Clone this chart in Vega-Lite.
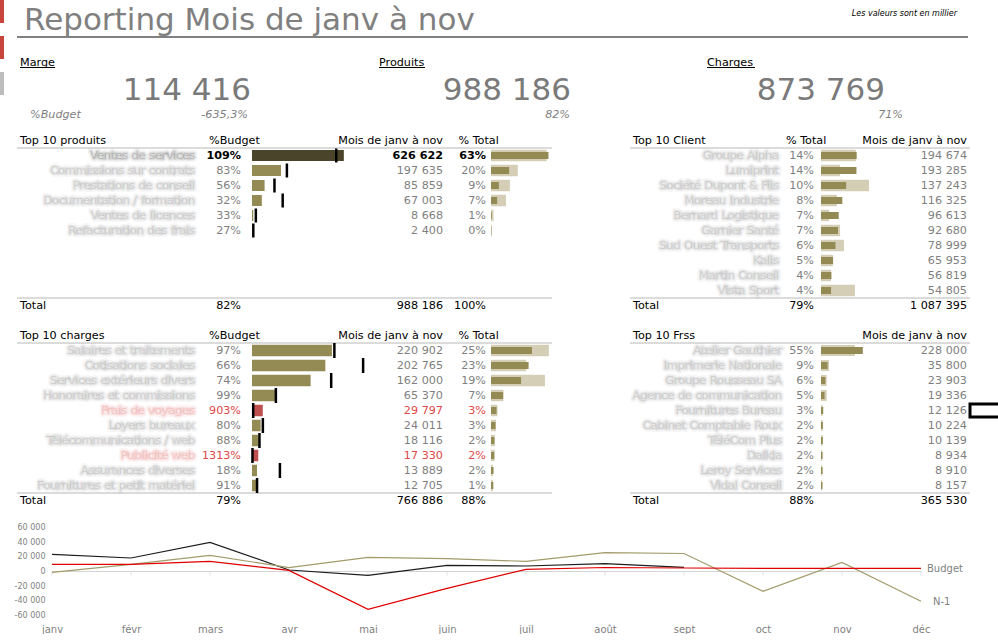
{
"$schema": "https://vega.github.io/schema/vega-lite/v6.json",
"padding": 0,
"background": "#ffffff",
"bounds": "flush",
"spacing": 13,
"config": {
  "font": "DejaVu Sans",
  "view": {"stroke": null},
  "concat": {"spacing": 0},
  "locale": {"number": {"decimal": ",", "thousands": "\u00a0", "grouping": [3], "currency": ["", "\u00a0€"], "percent": "%", "minus": "-"}},
  "text": {"font": "DejaVu Sans", "fontSize": 11.2, "color": "#7f7f7f", "baseline": "middle"}
},
"datasets": {
  "rapport": [{"titre": "Reporting Mois de janv à nov", "note": "Les valeurs sont en millier"}],
  "navigation": [{"onglet": "Tableau de bord", "actif": true}, {"onglet": "Saisie", "actif": true}, {"onglet": "Paramètres", "actif": false}],
  "indicateurs": [
    {"indicateur": "Marge", "montant": 114416, "ratio": -6.353, "libelleRatio": "%Budget"},
    {"indicateur": "Produits", "montant": 988186, "ratio": 0.82},
    {"indicateur": "Charges", "montant": 873769, "ratio": 0.71}
  ],
  "entetes": [
    {"bloc": "produits", "ligne": "entête", "titre": "Top 10 produits", "colBudget": "%Budget", "colMontant": "Mois de janv à nov", "colTotal": "% Total"},
    {"bloc": "charges", "ligne": "entête", "titre": "Top 10 charges", "colBudget": "%Budget", "colMontant": "Mois de janv à nov", "colTotal": "% Total"},
    {"bloc": "clients", "ligne": "entête", "titre": "Top 10 Client", "colMontant": "Mois de janv à nov", "colTotal": "% Total"},
    {"bloc": "frss", "ligne": "entête", "titre": "Top 10 Frss", "colMontant": "Mois de janv à nov"}
  ],
  "totaux": [
    {"bloc": "produits", "ligne": "total", "pctBudget": 0.82, "montant": 988186, "pctTotal": 1.0},
    {"bloc": "charges", "ligne": "total", "pctBudget": 0.79, "montant": 766886, "pctTotal": 0.88},
    {"bloc": "clients", "ligne": "total", "pctTotal": 0.79, "montant": 1087395},
    {"bloc": "frss", "ligne": "total", "pctTotal": 0.88, "montant": 365530}
  ],
  "lignes": [
    {"bloc": "produits", "ligne": "1", "libelle": "Ventes de services", "pctBudget": 1.09, "montant": 626622, "budget": 574883, "pctTotal": 0.63, "n1": 607000, "vedette": true},
    {"bloc": "produits", "ligne": "2", "libelle": "Commissions sur contrats", "pctBudget": 0.83, "montant": 197635, "budget": 238114, "pctTotal": 0.20, "n1": 292000},
    {"bloc": "produits", "ligne": "3", "libelle": "Prestations de conseil", "pctBudget": 0.56, "montant": 85859, "budget": 153320, "pctTotal": 0.09, "n1": 206000},
    {"bloc": "produits", "ligne": "4", "libelle": "Documentation / formation", "pctBudget": 0.32, "montant": 67003, "budget": 209384, "pctTotal": 0.07, "n1": 163000},
    {"bloc": "produits", "ligne": "5", "libelle": "Ventes de licences", "pctBudget": 0.33, "montant": 8668, "budget": 26267, "pctTotal": 0.01, "n1": 27000},
    {"bloc": "produits", "ligne": "6", "libelle": "Refacturation des frais", "pctBudget": 0.27, "montant": 2400, "budget": 8889, "pctTotal": 0.0, "n1": 11000},
    {"bloc": "charges", "ligne": "1", "libelle": "Salaires et traitements", "pctBudget": 0.97, "montant": 220902, "budget": 227734, "pctTotal": 0.25, "n1": 312000},
    {"bloc": "charges", "ligne": "2", "libelle": "Cotisations sociales", "pctBudget": 0.66, "montant": 202765, "budget": 307220, "pctTotal": 0.23, "n1": 189000},
    {"bloc": "charges", "ligne": "3", "libelle": "Services extérieurs divers", "pctBudget": 0.74, "montant": 162000, "budget": 218919, "pctTotal": 0.19, "n1": 291000},
    {"bloc": "charges", "ligne": "4", "libelle": "Honoraires et commissions", "pctBudget": 0.99, "montant": 65370, "budget": 66030, "pctTotal": 0.07, "n1": 67000},
    {"bloc": "charges", "ligne": "5", "libelle": "Frais de voyages", "pctBudget": 9.03, "montant": 29797, "budget": 3300, "pctTotal": 0.03, "n1": 35000, "alerte": true},
    {"bloc": "charges", "ligne": "6", "libelle": "Loyers bureaux", "pctBudget": 0.80, "montant": 24011, "budget": 30014, "pctTotal": 0.03, "n1": 27000},
    {"bloc": "charges", "ligne": "7", "libelle": "Télécommunications / web", "pctBudget": 0.88, "montant": 18116, "budget": 20586, "pctTotal": 0.02, "n1": 21000},
    {"bloc": "charges", "ligne": "8", "libelle": "Publicité web", "pctBudget": 13.13, "montant": 17330, "budget": 1320, "pctTotal": 0.02, "n1": 20000, "alerte": true},
    {"bloc": "charges", "ligne": "9", "libelle": "Assurances diverses", "pctBudget": 0.18, "montant": 13889, "budget": 77161, "pctTotal": 0.02, "n1": 10000},
    {"bloc": "charges", "ligne": "10", "libelle": "Fournitures et petit matériel", "pctBudget": 0.91, "montant": 12705, "budget": 13962, "pctTotal": 0.01, "n1": 10000},
    {"bloc": "clients", "ligne": "1", "libelle": "Groupe Alpha", "pctTotal": 0.14, "montant": 194674, "n1": 190000},
    {"bloc": "clients", "ligne": "2", "libelle": "Lumiprint", "pctTotal": 0.14, "montant": 193285, "n1": 104000},
    {"bloc": "clients", "ligne": "3", "libelle": "Société Dupont & Fils", "pctTotal": 0.10, "montant": 137243, "n1": 262000},
    {"bloc": "clients", "ligne": "4", "libelle": "Moreau Industrie", "pctTotal": 0.08, "montant": 116325, "n1": 87000},
    {"bloc": "clients", "ligne": "5", "libelle": "Bernard Logistique", "pctTotal": 0.07, "montant": 96613, "n1": 44000},
    {"bloc": "clients", "ligne": "6", "libelle": "Garnier Santé", "pctTotal": 0.07, "montant": 92680, "n1": 104000},
    {"bloc": "clients", "ligne": "7", "libelle": "Sud Ouest Transports", "pctTotal": 0.06, "montant": 78999, "n1": 125000},
    {"bloc": "clients", "ligne": "8", "libelle": "Kalis", "pctTotal": 0.05, "montant": 65953, "n1": 65000},
    {"bloc": "clients", "ligne": "9", "libelle": "Martin Conseil", "pctTotal": 0.04, "montant": 56819, "n1": 55000},
    {"bloc": "clients", "ligne": "10", "libelle": "Vista Sport", "pctTotal": 0.04, "montant": 54805, "n1": 185000},
    {"bloc": "frss", "ligne": "1", "libelle": "Atelier Gauthier", "pctTotal": 0.55, "montant": 228000, "n1": 185000},
    {"bloc": "frss", "ligne": "2", "libelle": "Imprimerie Nationale", "pctTotal": 0.09, "montant": 35800, "n1": 43600},
    {"bloc": "frss", "ligne": "3", "libelle": "Groupe Rousseau SA", "pctTotal": 0.06, "montant": 23903, "n1": 31000},
    {"bloc": "frss", "ligne": "4", "libelle": "Agence de communication", "pctTotal": 0.05, "montant": 19336, "n1": 31000},
    {"bloc": "frss", "ligne": "5", "libelle": "Fournitures Bureau", "pctTotal": 0.03, "montant": 12126, "n1": 9000, "selectionne": true},
    {"bloc": "frss", "ligne": "6", "libelle": "Cabinet Comptable Roux", "pctTotal": 0.02, "montant": 10224, "n1": 8000},
    {"bloc": "frss", "ligne": "7", "libelle": "TéléCom Plus", "pctTotal": 0.02, "montant": 10139, "n1": 8000},
    {"bloc": "frss", "ligne": "8", "libelle": "Dalkia", "pctTotal": 0.02, "montant": 8934, "n1": 6000},
    {"bloc": "frss", "ligne": "9", "libelle": "Leroy Services", "pctTotal": 0.02, "montant": 8910, "n1": 5000},
    {"bloc": "frss", "ligne": "10", "libelle": "Vidal Conseil", "pctTotal": 0.02, "montant": 8157, "n1": 5000}
  ],
  "mensuel": [
    {"serie": "Réalisé", "mois": "janv", "valeur": 23700},
    {"serie": "Réalisé", "mois": "févr", "valeur": 18600},
    {"serie": "Réalisé", "mois": "mars", "valeur": 40200},
    {"serie": "Réalisé", "mois": "avr", "valeur": 2100},
    {"serie": "Réalisé", "mois": "mai", "valeur": -5300},
    {"serie": "Réalisé", "mois": "juin", "valeur": 8500},
    {"serie": "Réalisé", "mois": "juil", "valeur": 7600},
    {"serie": "Réalisé", "mois": "août", "valeur": 10800},
    {"serie": "Réalisé", "mois": "sept", "valeur": 5700},
    {"serie": "N-1", "mois": "janv", "valeur": -1100},
    {"serie": "N-1", "mois": "févr", "valeur": 9900},
    {"serie": "N-1", "mois": "mars", "valeur": 22300},
    {"serie": "N-1", "mois": "avr", "valeur": 5300},
    {"serie": "N-1", "mois": "mai", "valeur": 19500},
    {"serie": "N-1", "mois": "juin", "valeur": 17700},
    {"serie": "N-1", "mois": "juil", "valeur": 14000},
    {"serie": "N-1", "mois": "août", "valeur": 26000},
    {"serie": "N-1", "mois": "sept", "valeur": 24800},
    {"serie": "N-1", "mois": "oct", "valeur": -27400},
    {"serie": "N-1", "mois": "nov", "valeur": 12600},
    {"serie": "N-1", "mois": "déc", "valeur": -41100},
    {"serie": "Budget", "mois": "janv", "valeur": 9900},
    {"serie": "Budget", "mois": "févr", "valeur": 9900},
    {"serie": "Budget", "mois": "mars", "valeur": 14000},
    {"serie": "Budget", "mois": "avr", "valeur": 1600},
    {"serie": "Budget", "mois": "mai", "valeur": -52200},
    {"serie": "Budget", "mois": "juin", "valeur": -23200},
    {"serie": "Budget", "mois": "juil", "valeur": 3000},
    {"serie": "Budget", "mois": "août", "valeur": 5500},
    {"serie": "Budget", "mois": "sept", "valeur": 4800},
    {"serie": "Budget", "mois": "oct", "valeur": 4400},
    {"serie": "Budget", "mois": "nov", "valeur": 4400},
    {"serie": "Budget", "mois": "déc", "valeur": 4400}
  ]
},
"hconcat": [
  {
    "width": 4, "height": 95,
    "data": {"name": "navigation"},
    "mark": {"type": "bar"},
    "encoding": {
      "y": {"field": "onglet", "type": "nominal", "sort": null, "axis": null, "scale": {"paddingInner": 0.36, "paddingOuter": 0}},
      "color": {"condition": {"test": "datum.actif", "value": "#C9453B"}, "value": "#BDBDBD"}
    }
  },
  {
    "bounds": "full", "spacing": 0,
    "vconcat": [
      {
        "width": 951, "height": 37,
        "data": {"name": "rapport"},
        "encoding": {"y": {"datum": 0, "type": "quantitative", "scale": {"domain": [0, 1]}, "axis": null}},
        "layer": [
          {"mark": {"type": "rule", "color": "#000000", "strokeWidth": 1}, "encoding": {}},
          {"mark": {"type": "text", "align": "left", "baseline": "alphabetic", "fontSize": 31, "color": "#808080", "dx": 7, "dy": -7},
           "encoding": {"x": {"datum": 0, "type": "quantitative", "scale": {"domain": [0, 1]}, "axis": null}, "text": {"field": "titre"}}},
          {"mark": {"type": "text", "align": "right", "fontStyle": "italic", "fontSize": 8, "color": "#000000", "dx": -11, "dy": -23},
           "encoding": {"x": {"datum": 1, "type": "quantitative", "scale": {"domain": [0, 1]}, "axis": null}, "text": {"field": "note"}}}
        ]
      },
      {
        "bounds": "flush", "spacing": 132,
        "hconcat": [
          {
            "width": 234, "height": 95,
            "data": {"name": "indicateurs"},
            "transform": [{"filter": "datum.indicateur === 'Marge'"}],
            "layer": [
              {"mark": {"type": "text", "align": "left", "color": "#000000", "dx": 3, "dy": -23},
               "encoding": {"x": {"datum": 0, "type": "quantitative", "scale": {"domain": [0, 1]}, "axis": null}, "text": {"field": "indicateur"}}},
              {"mark": {"type": "rule", "color": "#000000", "xOffset": 3, "x2Offset": 38, "yOffset": -18},
               "encoding": {"x": {"datum": 0, "type": "quantitative", "scale": {"domain": [0, 1]}, "axis": null}, "x2": {"datum": 0}}},
              {"mark": {"type": "text", "align": "right", "baseline": "alphabetic", "fontSize": 31, "color": "#7a7a7a", "dy": 14},
               "encoding": {"x": {"datum": 1, "type": "quantitative", "scale": {"domain": [0, 1]}, "axis": null}, "text": {"field": "montant", "type": "quantitative", "format": ",.0f"}}},
              {"mark": {"type": "text", "align": "right", "fontStyle": "italic", "dx": -3, "dy": 29},
               "encoding": {"x": {"datum": 1, "type": "quantitative", "scale": {"domain": [0, 1]}, "axis": null}, "text": {"field": "ratio", "type": "quantitative", "format": ".1%"}}},
              {"mark": {"type": "text", "align": "left", "fontStyle": "italic", "dx": 13, "dy": 29},
               "encoding": {"x": {"datum": 0, "type": "quantitative", "scale": {"domain": [0, 1]}, "axis": null}, "text": {"field": "libelleRatio"}}}
            ]
          },
          {
            "width": 188, "height": 95,
            "data": {"name": "indicateurs"},
            "transform": [{"filter": "datum.indicateur === 'Produits'"}],
            "layer": [
              {"mark": {"type": "text", "align": "left", "color": "#000000", "dx": -4, "dy": -23},
               "encoding": {"x": {"datum": 0, "type": "quantitative", "scale": {"domain": [0, 1]}, "axis": null}, "text": {"field": "indicateur"}}},
              {"mark": {"type": "rule", "color": "#000000", "xOffset": -4, "x2Offset": 42, "yOffset": -18},
               "encoding": {"x": {"datum": 0, "type": "quantitative", "scale": {"domain": [0, 1]}, "axis": null}, "x2": {"datum": 0}}},
              {"mark": {"type": "text", "align": "right", "baseline": "alphabetic", "fontSize": 31, "color": "#7a7a7a", "dy": 14},
               "encoding": {"x": {"datum": 1, "type": "quantitative", "scale": {"domain": [0, 1]}, "axis": null}, "text": {"field": "montant", "type": "quantitative", "format": ",.0f"}}},
              {"mark": {"type": "text", "align": "right", "fontStyle": "italic", "dx": -1, "dy": 29},
               "encoding": {"x": {"datum": 1, "type": "quantitative", "scale": {"domain": [0, 1]}, "axis": null}, "text": {"field": "ratio", "type": "quantitative", "format": ".0%"}}}
            ]
          },
          {
            "width": 182, "height": 95,
            "data": {"name": "indicateurs"},
            "transform": [{"filter": "datum.indicateur === 'Charges'"}],
            "layer": [
              {"mark": {"type": "text", "align": "left", "color": "#000000", "dx": 4, "dy": -23},
               "encoding": {"x": {"datum": 0, "type": "quantitative", "scale": {"domain": [0, 1]}, "axis": null}, "text": {"field": "indicateur"}}},
              {"mark": {"type": "rule", "color": "#000000", "xOffset": 4, "x2Offset": 52, "yOffset": -18},
               "encoding": {"x": {"datum": 0, "type": "quantitative", "scale": {"domain": [0, 1]}, "axis": null}, "x2": {"datum": 0}}},
              {"mark": {"type": "text", "align": "right", "baseline": "alphabetic", "fontSize": 31, "color": "#7a7a7a", "dy": 14},
               "encoding": {"x": {"datum": 1, "type": "quantitative", "scale": {"domain": [0, 1]}, "axis": null}, "text": {"field": "montant", "type": "quantitative", "format": ",.0f"}}},
              {"mark": {"type": "text", "align": "right", "fontStyle": "italic", "dx": 18, "dy": 29},
               "encoding": {"x": {"datum": 1, "type": "quantitative", "scale": {"domain": [0, 1]}, "axis": null}, "text": {"field": "ratio", "type": "quantitative", "format": ".0%"}}}
            ]
          }
        ]
      },
      {
        "bounds": "full", "spacing": 76,
        "hconcat": [
          {
            "bounds": "flush", "spacing": 0,
            "hconcat": [
              {
                "width": 192, "height": 195,
                "encoding": {"y": {"field": "ligne", "type": "ordinal", "axis": null, "scale": {"type": "band", "domain": ["entête", "1", "2", "3", "4", "5", "6", "7", "8", "9", "10", "total"], "paddingInner": 0, "paddingOuter": 0.5, "align": 0}}},
                "layer": [
                  {"data": {"name": "entetes"}, "transform": [{"filter": "datum.bloc === 'produits'"}], "mark": {"type": "rule", "color": "#b8b8b8", "yOffset": 7.5}, "encoding": {}},
                  {"data": {"name": "totaux"}, "transform": [{"filter": "datum.bloc === 'produits'"}], "mark": {"type": "rule", "color": "#b8b8b8", "yOffset": -7.5}, "encoding": {}},
                  {"data": {"name": "entetes"}, "transform": [{"filter": "datum.bloc === 'produits'"}], "mark": {"type": "text", "align": "left", "dx": 3, "color": "#000000"},
                   "encoding": {"x": {"datum": 0, "type": "quantitative", "scale": {"domain": [0, 1]}, "axis": null}, "text": {"field": "titre"}}},
                  {"data": {"name": "totaux"}, "transform": [{"filter": "datum.bloc === 'produits'"}], "mark": {"type": "text", "align": "left", "dx": 3, "color": "#000000"},
                   "encoding": {"x": {"datum": 0, "type": "quantitative", "scale": {"domain": [0, 1]}, "axis": null}, "text": {"value": "Total"}}},
                  {"data": {"name": "lignes"}, "transform": [{"filter": "datum.bloc === 'produits'"}], "mark": {"type": "text", "align": "right", "dx": -14, "strokeWidth": 6, "strokeOpacity": 0.07, "fillOpacity": 0.1, "strokeJoin": "round"},
                   "encoding": {"x": {"datum": 1, "type": "quantitative", "scale": {"domain": [0, 1]}, "axis": null}, "text": {"field": "libelle"},
                     "color": {"condition": [{"test": "datum.alerte", "value": "#E06A6A"}, {"test": "datum.vedette", "value": "#4a4a4a"}], "value": "#858585"},
                     "stroke": {"condition": [{"test": "datum.alerte", "value": "#E06A6A"}, {"test": "datum.vedette", "value": "#4a4a4a"}], "value": "#858585"}}},
                  {"data": {"name": "lignes"}, "transform": [{"filter": "datum.bloc === 'produits'"}], "mark": {"type": "text", "align": "right", "dx": -14, "strokeWidth": 2.6, "strokeOpacity": 0.14, "fillOpacity": 0.18, "strokeJoin": "round"},
                   "encoding": {"x": {"datum": 1, "type": "quantitative", "scale": {"domain": [0, 1]}, "axis": null}, "text": {"field": "libelle"},
                     "color": {"condition": [{"test": "datum.alerte", "value": "#E06A6A"}, {"test": "datum.vedette", "value": "#4a4a4a"}], "value": "#858585"},
                     "stroke": {"condition": [{"test": "datum.alerte", "value": "#E06A6A"}, {"test": "datum.vedette", "value": "#4a4a4a"}], "value": "#858585"}}}
                ]
              },
              {
                "width": 43, "height": 195,
                "encoding": {"y": {"field": "ligne", "type": "ordinal", "axis": null, "scale": {"type": "band", "domain": ["entête", "1", "2", "3", "4", "5", "6", "7", "8", "9", "10", "total"], "paddingInner": 0, "paddingOuter": 0.5, "align": 0}}},
                "layer": [
                  {"data": {"name": "entetes"}, "transform": [{"filter": "datum.bloc === 'produits'"}], "mark": {"type": "rule", "color": "#b8b8b8", "yOffset": 7.5}, "encoding": {}},
                  {"data": {"name": "totaux"}, "transform": [{"filter": "datum.bloc === 'produits'"}], "mark": {"type": "rule", "color": "#b8b8b8", "yOffset": -7.5}, "encoding": {}},
                  {"data": {"name": "entetes"}, "transform": [{"filter": "datum.bloc === 'produits'"}], "mark": {"type": "text", "align": "left", "color": "#000000"},
                   "encoding": {"x": {"datum": 0, "type": "quantitative", "scale": {"domain": [0, 1]}, "axis": null}, "text": {"field": "colBudget"}}},
                  {"data": {"name": "lignes"}, "transform": [{"filter": "datum.bloc === 'produits' && !datum.vedette"}], "mark": {"type": "text", "align": "right", "dx": -11},
                   "encoding": {"x": {"datum": 1, "type": "quantitative", "scale": {"domain": [0, 1]}, "axis": null}, "text": {"field": "pctBudget", "type": "quantitative", "format": ".0%"},
                     "color": {"condition": {"test": "datum.alerte", "value": "#E04848"}, "value": "#7f7f7f"}}},
                  {"data": {"name": "lignes"}, "transform": [{"filter": "datum.bloc === 'produits' && datum.vedette"}], "mark": {"type": "text", "align": "right", "dx": -11, "fontWeight": "bold", "color": "#000000"},
                   "encoding": {"x": {"datum": 1, "type": "quantitative", "scale": {"domain": [0, 1]}, "axis": null}, "text": {"field": "pctBudget", "type": "quantitative", "format": ".0%"}}},
                  {"data": {"name": "totaux"}, "transform": [{"filter": "datum.bloc === 'produits'"}], "mark": {"type": "text", "align": "right", "dx": -11, "color": "#000000"},
                   "encoding": {"x": {"datum": 1, "type": "quantitative", "scale": {"domain": [0, 1]}, "axis": null}, "text": {"field": "pctBudget", "type": "quantitative", "format": ".0%"}}}
                ]
              },
              {
                "width": 85, "height": 195,
                "encoding": {"y": {"field": "ligne", "type": "ordinal", "axis": null, "scale": {"type": "band", "domain": ["entête", "1", "2", "3", "4", "5", "6", "7", "8", "9", "10", "total"], "paddingInner": 0, "paddingOuter": 0.5, "align": 0}}},
                "layer": [
                  {"data": {"name": "entetes"}, "transform": [{"filter": "datum.bloc === 'produits'"}], "mark": {"type": "rule", "color": "#b8b8b8", "yOffset": 7.5}, "encoding": {}},
                  {"data": {"name": "totaux"}, "transform": [{"filter": "datum.bloc === 'produits'"}], "mark": {"type": "rule", "color": "#b8b8b8", "yOffset": -7.5}, "encoding": {}},
                  {"data": {"name": "lignes"}, "transform": [{"filter": "datum.bloc === 'produits'"}], "mark": {"type": "bar", "height": 11},
                   "encoding": {"x": {"field": "montant", "type": "quantitative", "scale": {"domain": [0, 580000], "nice": false}, "axis": null},
                     "color": {"condition": [{"test": "datum.alerte", "value": "#C0504D"}, {"test": "datum.vedette", "value": "#4A452A"}], "value": "#948A54"}}},
                  {"data": {"name": "lignes"}, "transform": [{"filter": "datum.bloc === 'produits'"}], "mark": {"type": "tick", "color": "#000000", "thickness": 2.5, "size": 14, "orient": "vertical", "opacity": 1},
                   "encoding": {"x": {"field": "budget", "type": "quantitative", "scale": {"domain": [0, 580000], "nice": false}, "axis": null}}}
                ]
              },
              {
                "width": 121, "height": 195,
                "encoding": {"y": {"field": "ligne", "type": "ordinal", "axis": null, "scale": {"type": "band", "domain": ["entête", "1", "2", "3", "4", "5", "6", "7", "8", "9", "10", "total"], "paddingInner": 0, "paddingOuter": 0.5, "align": 0}}},
                "layer": [
                  {"data": {"name": "entetes"}, "transform": [{"filter": "datum.bloc === 'produits'"}], "mark": {"type": "rule", "color": "#b8b8b8", "yOffset": 7.5}, "encoding": {}},
                  {"data": {"name": "totaux"}, "transform": [{"filter": "datum.bloc === 'produits'"}], "mark": {"type": "rule", "color": "#b8b8b8", "yOffset": -7.5}, "encoding": {}},
                  {"data": {"name": "entetes"}, "transform": [{"filter": "datum.bloc === 'produits'"}], "mark": {"type": "text", "align": "right", "dx": -15, "color": "#000000"},
                   "encoding": {"x": {"datum": 1, "type": "quantitative", "scale": {"domain": [0, 1]}, "axis": null}, "text": {"field": "colMontant"}}},
                  {"data": {"name": "lignes"}, "transform": [{"filter": "datum.bloc === 'produits' && !datum.vedette"}], "mark": {"type": "text", "align": "right", "dx": -15},
                   "encoding": {"x": {"datum": 1, "type": "quantitative", "scale": {"domain": [0, 1]}, "axis": null}, "text": {"field": "montant", "type": "quantitative", "format": ",.0f"},
                     "color": {"condition": {"test": "datum.alerte", "value": "#E04848"}, "value": "#7f7f7f"}}},
                  {"data": {"name": "lignes"}, "transform": [{"filter": "datum.bloc === 'produits' && datum.vedette"}], "mark": {"type": "text", "align": "right", "dx": -15, "fontWeight": "bold", "color": "#000000"},
                   "encoding": {"x": {"datum": 1, "type": "quantitative", "scale": {"domain": [0, 1]}, "axis": null}, "text": {"field": "montant", "type": "quantitative", "format": ",.0f"}}},
                  {"data": {"name": "totaux"}, "transform": [{"filter": "datum.bloc === 'produits'"}], "mark": {"type": "text", "align": "right", "dx": -15, "color": "#000000"},
                   "encoding": {"x": {"datum": 1, "type": "quantitative", "scale": {"domain": [0, 1]}, "axis": null}, "text": {"field": "montant", "type": "quantitative", "format": ",.0f"}}}
                ]
              },
              {
                "width": 33, "height": 195,
                "encoding": {"y": {"field": "ligne", "type": "ordinal", "axis": null, "scale": {"type": "band", "domain": ["entête", "1", "2", "3", "4", "5", "6", "7", "8", "9", "10", "total"], "paddingInner": 0, "paddingOuter": 0.5, "align": 0}}},
                "layer": [
                  {"data": {"name": "entetes"}, "transform": [{"filter": "datum.bloc === 'produits'"}], "mark": {"type": "rule", "color": "#b8b8b8", "yOffset": 7.5}, "encoding": {}},
                  {"data": {"name": "totaux"}, "transform": [{"filter": "datum.bloc === 'produits'"}], "mark": {"type": "rule", "color": "#b8b8b8", "yOffset": -7.5}, "encoding": {}},
                  {"data": {"name": "entetes"}, "transform": [{"filter": "datum.bloc === 'produits'"}], "mark": {"type": "text", "align": "left", "dx": 0.5, "color": "#000000"},
                   "encoding": {"x": {"datum": 0, "type": "quantitative", "scale": {"domain": [0, 1]}, "axis": null}, "text": {"field": "colTotal"}}},
                  {"data": {"name": "lignes"}, "transform": [{"filter": "datum.bloc === 'produits' && !datum.vedette"}], "mark": {"type": "text", "align": "right", "dx": -5},
                   "encoding": {"x": {"datum": 1, "type": "quantitative", "scale": {"domain": [0, 1]}, "axis": null}, "text": {"field": "pctTotal", "type": "quantitative", "format": ".0%"},
                     "color": {"condition": {"test": "datum.alerte", "value": "#E04848"}, "value": "#7f7f7f"}}},
                  {"data": {"name": "lignes"}, "transform": [{"filter": "datum.bloc === 'produits' && datum.vedette"}], "mark": {"type": "text", "align": "right", "dx": -5, "fontWeight": "bold", "color": "#000000"},
                   "encoding": {"x": {"datum": 1, "type": "quantitative", "scale": {"domain": [0, 1]}, "axis": null}, "text": {"field": "pctTotal", "type": "quantitative", "format": ".0%"}}},
                  {"data": {"name": "totaux"}, "transform": [{"filter": "datum.bloc === 'produits'"}], "mark": {"type": "text", "align": "right", "dx": -5, "color": "#000000"},
                   "encoding": {"x": {"datum": 1, "type": "quantitative", "scale": {"domain": [0, 1]}, "axis": null}, "text": {"field": "pctTotal", "type": "quantitative", "format": ".0%"}}}
                ]
              },
              {
                "width": 61, "height": 195,
                "encoding": {"y": {"field": "ligne", "type": "ordinal", "axis": null, "scale": {"type": "band", "domain": ["entête", "1", "2", "3", "4", "5", "6", "7", "8", "9", "10", "total"], "paddingInner": 0, "paddingOuter": 0.5, "align": 0}}},
                "layer": [
                  {"data": {"name": "entetes"}, "transform": [{"filter": "datum.bloc === 'produits'"}], "mark": {"type": "rule", "color": "#b8b8b8", "yOffset": 7.5}, "encoding": {}},
                  {"data": {"name": "totaux"}, "transform": [{"filter": "datum.bloc === 'produits'"}], "mark": {"type": "rule", "color": "#b8b8b8", "yOffset": -7.5}, "encoding": {}},
                  {"data": {"name": "lignes"}, "transform": [{"filter": "datum.bloc === 'produits'"}], "mark": {"type": "bar", "height": 11.5, "color": "#D3CEB5"},
                   "encoding": {"x": {"field": "n1", "type": "quantitative", "scale": {"domain": [0, 665000], "nice": false}, "axis": null}}},
                  {"data": {"name": "lignes"}, "transform": [{"filter": "datum.bloc === 'produits'"}], "mark": {"type": "bar", "height": 7, "color": "#948A54"},
                   "encoding": {"x": {"field": "montant", "type": "quantitative", "scale": {"domain": [0, 665000], "nice": false}, "axis": null}}}
                ]
              }
            ]
          },
          {
            "bounds": "flush", "spacing": 0,
            "hconcat": [
              {
                "width": 156, "height": 195,
                "encoding": {"y": {"field": "ligne", "type": "ordinal", "axis": null, "scale": {"type": "band", "domain": ["entête", "1", "2", "3", "4", "5", "6", "7", "8", "9", "10", "total"], "paddingInner": 0, "paddingOuter": 0.5, "align": 0}}},
                "layer": [
                  {"data": {"name": "entetes"}, "transform": [{"filter": "datum.bloc === 'clients'"}], "mark": {"type": "rule", "color": "#b8b8b8", "yOffset": 7.5}, "encoding": {}},
                  {"data": {"name": "totaux"}, "transform": [{"filter": "datum.bloc === 'clients'"}], "mark": {"type": "rule", "color": "#b8b8b8", "yOffset": -7.5}, "encoding": {}},
                  {"data": {"name": "entetes"}, "transform": [{"filter": "datum.bloc === 'clients'"}], "mark": {"type": "text", "align": "left", "dx": 3, "color": "#000000"},
                   "encoding": {"x": {"datum": 0, "type": "quantitative", "scale": {"domain": [0, 1]}, "axis": null}, "text": {"field": "titre"}}},
                  {"data": {"name": "totaux"}, "transform": [{"filter": "datum.bloc === 'clients'"}], "mark": {"type": "text", "align": "left", "dx": 3, "color": "#000000"},
                   "encoding": {"x": {"datum": 0, "type": "quantitative", "scale": {"domain": [0, 1]}, "axis": null}, "text": {"value": "Total"}}},
                  {"data": {"name": "lignes"}, "transform": [{"filter": "datum.bloc === 'clients'"}], "mark": {"type": "text", "align": "right", "dx": -7, "strokeWidth": 6, "strokeOpacity": 0.07, "fillOpacity": 0.1, "strokeJoin": "round", "color": "#858585", "stroke": "#858585"},
                   "encoding": {"x": {"datum": 1, "type": "quantitative", "scale": {"domain": [0, 1]}, "axis": null}, "text": {"field": "libelle"}}},
                  {"data": {"name": "lignes"}, "transform": [{"filter": "datum.bloc === 'clients'"}], "mark": {"type": "text", "align": "right", "dx": -7, "strokeWidth": 2.6, "strokeOpacity": 0.14, "fillOpacity": 0.18, "strokeJoin": "round", "color": "#858585", "stroke": "#858585"},
                   "encoding": {"x": {"datum": 1, "type": "quantitative", "scale": {"domain": [0, 1]}, "axis": null}, "text": {"field": "libelle"}}}
                ]
              },
              {
                "width": 35, "height": 195,
                "encoding": {"y": {"field": "ligne", "type": "ordinal", "axis": null, "scale": {"type": "band", "domain": ["entête", "1", "2", "3", "4", "5", "6", "7", "8", "9", "10", "total"], "paddingInner": 0, "paddingOuter": 0.5, "align": 0}}},
                "layer": [
                  {"data": {"name": "entetes"}, "transform": [{"filter": "datum.bloc === 'clients'"}], "mark": {"type": "rule", "color": "#b8b8b8", "yOffset": 7.5}, "encoding": {}},
                  {"data": {"name": "totaux"}, "transform": [{"filter": "datum.bloc === 'clients'"}], "mark": {"type": "rule", "color": "#b8b8b8", "yOffset": -7.5}, "encoding": {}},
                  {"data": {"name": "entetes"}, "transform": [{"filter": "datum.bloc === 'clients'"}], "mark": {"type": "text", "align": "left", "color": "#000000"},
                   "encoding": {"x": {"datum": 0, "type": "quantitative", "scale": {"domain": [0, 1]}, "axis": null}, "text": {"field": "colTotal"}}},
                  {"data": {"name": "lignes"}, "transform": [{"filter": "datum.bloc === 'clients'"}], "mark": {"type": "text", "align": "right", "dx": -7},
                   "encoding": {"x": {"datum": 1, "type": "quantitative", "scale": {"domain": [0, 1]}, "axis": null}, "text": {"field": "pctTotal", "type": "quantitative", "format": ".0%"}}},
                  {"data": {"name": "totaux"}, "transform": [{"filter": "datum.bloc === 'clients'"}], "mark": {"type": "text", "align": "right", "dx": -7, "color": "#000000"},
                   "encoding": {"x": {"datum": 1, "type": "quantitative", "scale": {"domain": [0, 1]}, "axis": null}, "text": {"field": "pctTotal", "type": "quantitative", "format": ".0%"}}}
                ]
              },
              {
                "width": 149, "height": 195,
                "resolve": {"scale": {"x": "independent"}},
                "encoding": {"y": {"field": "ligne", "type": "ordinal", "axis": null, "scale": {"type": "band", "domain": ["entête", "1", "2", "3", "4", "5", "6", "7", "8", "9", "10", "total"], "paddingInner": 0, "paddingOuter": 0.5, "align": 0}}},
                "layer": [
                  {"data": {"name": "entetes"}, "transform": [{"filter": "datum.bloc === 'clients'"}], "mark": {"type": "rule", "color": "#b8b8b8", "yOffset": 7.5}, "encoding": {}},
                  {"data": {"name": "totaux"}, "transform": [{"filter": "datum.bloc === 'clients'"}], "mark": {"type": "rule", "color": "#b8b8b8", "yOffset": -7.5}, "encoding": {}},
                  {"data": {"name": "lignes"}, "transform": [{"filter": "datum.bloc === 'clients'"}], "mark": {"type": "bar", "height": 11.5, "color": "#D3CEB5"},
                   "encoding": {"x": {"field": "n1", "type": "quantitative", "scale": {"domain": [0, 812500], "nice": false}, "axis": null}}},
                  {"data": {"name": "lignes"}, "transform": [{"filter": "datum.bloc === 'clients'"}], "mark": {"type": "bar", "height": 7, "color": "#948A54"},
                   "encoding": {"x": {"field": "montant", "type": "quantitative", "scale": {"domain": [0, 812500], "nice": false}, "axis": null}}},
                  {"data": {"name": "entetes"}, "transform": [{"filter": "datum.bloc === 'clients'"}], "mark": {"type": "text", "align": "right", "dx": -3, "color": "#000000"},
                   "encoding": {"x": {"datum": 1, "type": "quantitative", "scale": {"domain": [0, 1]}, "axis": null}, "text": {"field": "colMontant"}}},
                  {"data": {"name": "lignes"}, "transform": [{"filter": "datum.bloc === 'clients'"}], "mark": {"type": "text", "align": "right", "dx": -3},
                   "encoding": {"x": {"datum": 1, "type": "quantitative", "scale": {"domain": [0, 1]}, "axis": null}, "text": {"field": "montant", "type": "quantitative", "format": ",.0f"}}},
                  {"data": {"name": "totaux"}, "transform": [{"filter": "datum.bloc === 'clients'"}], "mark": {"type": "text", "align": "right", "dx": -3, "color": "#000000"},
                   "encoding": {"x": {"datum": 1, "type": "quantitative", "scale": {"domain": [0, 1]}, "axis": null}, "text": {"field": "montant", "type": "quantitative", "format": ",.0f"}}}
                ]
              }
            ]
          }
        ]
      },
      {
        "bounds": "full", "spacing": 76,
        "hconcat": [
          {
            "bounds": "flush", "spacing": 0,
            "hconcat": [
              {
                "width": 192, "height": 195,
                "encoding": {"y": {"field": "ligne", "type": "ordinal", "axis": null, "scale": {"type": "band", "domain": ["entête", "1", "2", "3", "4", "5", "6", "7", "8", "9", "10", "total"], "paddingInner": 0, "paddingOuter": 0.5, "align": 0}}},
                "layer": [
                  {"data": {"name": "entetes"}, "transform": [{"filter": "datum.bloc === 'charges'"}], "mark": {"type": "rule", "color": "#b8b8b8", "yOffset": 7.5}, "encoding": {}},
                  {"data": {"name": "totaux"}, "transform": [{"filter": "datum.bloc === 'charges'"}], "mark": {"type": "rule", "color": "#b8b8b8", "yOffset": -7.5}, "encoding": {}},
                  {"data": {"name": "entetes"}, "transform": [{"filter": "datum.bloc === 'charges'"}], "mark": {"type": "text", "align": "left", "dx": 3, "color": "#000000"},
                   "encoding": {"x": {"datum": 0, "type": "quantitative", "scale": {"domain": [0, 1]}, "axis": null}, "text": {"field": "titre"}}},
                  {"data": {"name": "totaux"}, "transform": [{"filter": "datum.bloc === 'charges'"}], "mark": {"type": "text", "align": "left", "dx": 3, "color": "#000000"},
                   "encoding": {"x": {"datum": 0, "type": "quantitative", "scale": {"domain": [0, 1]}, "axis": null}, "text": {"value": "Total"}}},
                  {"data": {"name": "lignes"}, "transform": [{"filter": "datum.bloc === 'charges'"}], "mark": {"type": "text", "align": "right", "dx": -14, "strokeWidth": 6, "strokeOpacity": 0.07, "fillOpacity": 0.1, "strokeJoin": "round"},
                   "encoding": {"x": {"datum": 1, "type": "quantitative", "scale": {"domain": [0, 1]}, "axis": null}, "text": {"field": "libelle"},
                     "color": {"condition": [{"test": "datum.alerte", "value": "#E06A6A"}, {"test": "datum.vedette", "value": "#4a4a4a"}], "value": "#858585"},
                     "stroke": {"condition": [{"test": "datum.alerte", "value": "#E06A6A"}, {"test": "datum.vedette", "value": "#4a4a4a"}], "value": "#858585"}}},
                  {"data": {"name": "lignes"}, "transform": [{"filter": "datum.bloc === 'charges'"}], "mark": {"type": "text", "align": "right", "dx": -14, "strokeWidth": 2.6, "strokeOpacity": 0.14, "fillOpacity": 0.18, "strokeJoin": "round"},
                   "encoding": {"x": {"datum": 1, "type": "quantitative", "scale": {"domain": [0, 1]}, "axis": null}, "text": {"field": "libelle"},
                     "color": {"condition": [{"test": "datum.alerte", "value": "#E06A6A"}, {"test": "datum.vedette", "value": "#4a4a4a"}], "value": "#858585"},
                     "stroke": {"condition": [{"test": "datum.alerte", "value": "#E06A6A"}, {"test": "datum.vedette", "value": "#4a4a4a"}], "value": "#858585"}}}
                ]
              },
              {
                "width": 43, "height": 195,
                "encoding": {"y": {"field": "ligne", "type": "ordinal", "axis": null, "scale": {"type": "band", "domain": ["entête", "1", "2", "3", "4", "5", "6", "7", "8", "9", "10", "total"], "paddingInner": 0, "paddingOuter": 0.5, "align": 0}}},
                "layer": [
                  {"data": {"name": "entetes"}, "transform": [{"filter": "datum.bloc === 'charges'"}], "mark": {"type": "rule", "color": "#b8b8b8", "yOffset": 7.5}, "encoding": {}},
                  {"data": {"name": "totaux"}, "transform": [{"filter": "datum.bloc === 'charges'"}], "mark": {"type": "rule", "color": "#b8b8b8", "yOffset": -7.5}, "encoding": {}},
                  {"data": {"name": "entetes"}, "transform": [{"filter": "datum.bloc === 'charges'"}], "mark": {"type": "text", "align": "left", "color": "#000000"},
                   "encoding": {"x": {"datum": 0, "type": "quantitative", "scale": {"domain": [0, 1]}, "axis": null}, "text": {"field": "colBudget"}}},
                  {"data": {"name": "lignes"}, "transform": [{"filter": "datum.bloc === 'charges'"}], "mark": {"type": "text", "align": "right", "dx": -11},
                   "encoding": {"x": {"datum": 1, "type": "quantitative", "scale": {"domain": [0, 1]}, "axis": null}, "text": {"field": "pctBudget", "type": "quantitative", "format": ".0%"},
                     "color": {"condition": {"test": "datum.alerte", "value": "#E04848"}, "value": "#7f7f7f"}}},
                  {"data": {"name": "totaux"}, "transform": [{"filter": "datum.bloc === 'charges'"}], "mark": {"type": "text", "align": "right", "dx": -11, "color": "#000000"},
                   "encoding": {"x": {"datum": 1, "type": "quantitative", "scale": {"domain": [0, 1]}, "axis": null}, "text": {"field": "pctBudget", "type": "quantitative", "format": ".0%"}}}
                ]
              },
              {
                "width": 85, "height": 195,
                "encoding": {"y": {"field": "ligne", "type": "ordinal", "axis": null, "scale": {"type": "band", "domain": ["entête", "1", "2", "3", "4", "5", "6", "7", "8", "9", "10", "total"], "paddingInner": 0, "paddingOuter": 0.5, "align": 0}}},
                "layer": [
                  {"data": {"name": "entetes"}, "transform": [{"filter": "datum.bloc === 'charges'"}], "mark": {"type": "rule", "color": "#b8b8b8", "yOffset": 7.5}, "encoding": {}},
                  {"data": {"name": "totaux"}, "transform": [{"filter": "datum.bloc === 'charges'"}], "mark": {"type": "rule", "color": "#b8b8b8", "yOffset": -7.5}, "encoding": {}},
                  {"data": {"name": "lignes"}, "transform": [{"filter": "datum.bloc === 'charges'"}], "mark": {"type": "bar", "height": 11.5},
                   "encoding": {"x": {"field": "montant", "type": "quantitative", "scale": {"domain": [0, 235000], "nice": false}, "axis": null},
                     "color": {"condition": [{"test": "datum.alerte", "value": "#C0504D"}, {"test": "datum.vedette", "value": "#4A452A"}], "value": "#948A54"}}},
                  {"data": {"name": "lignes"}, "transform": [{"filter": "datum.bloc === 'charges'"}], "mark": {"type": "tick", "color": "#000000", "thickness": 2.5, "size": 15, "orient": "vertical", "opacity": 1},
                   "encoding": {"x": {"field": "budget", "type": "quantitative", "scale": {"domain": [0, 235000], "nice": false}, "axis": null}}}
                ]
              },
              {
                "width": 121, "height": 195,
                "encoding": {"y": {"field": "ligne", "type": "ordinal", "axis": null, "scale": {"type": "band", "domain": ["entête", "1", "2", "3", "4", "5", "6", "7", "8", "9", "10", "total"], "paddingInner": 0, "paddingOuter": 0.5, "align": 0}}},
                "layer": [
                  {"data": {"name": "entetes"}, "transform": [{"filter": "datum.bloc === 'charges'"}], "mark": {"type": "rule", "color": "#b8b8b8", "yOffset": 7.5}, "encoding": {}},
                  {"data": {"name": "totaux"}, "transform": [{"filter": "datum.bloc === 'charges'"}], "mark": {"type": "rule", "color": "#b8b8b8", "yOffset": -7.5}, "encoding": {}},
                  {"data": {"name": "entetes"}, "transform": [{"filter": "datum.bloc === 'charges'"}], "mark": {"type": "text", "align": "right", "dx": -15, "color": "#000000"},
                   "encoding": {"x": {"datum": 1, "type": "quantitative", "scale": {"domain": [0, 1]}, "axis": null}, "text": {"field": "colMontant"}}},
                  {"data": {"name": "lignes"}, "transform": [{"filter": "datum.bloc === 'charges'"}], "mark": {"type": "text", "align": "right", "dx": -15},
                   "encoding": {"x": {"datum": 1, "type": "quantitative", "scale": {"domain": [0, 1]}, "axis": null}, "text": {"field": "montant", "type": "quantitative", "format": ",.0f"},
                     "color": {"condition": {"test": "datum.alerte", "value": "#E04848"}, "value": "#7f7f7f"}}},
                  {"data": {"name": "totaux"}, "transform": [{"filter": "datum.bloc === 'charges'"}], "mark": {"type": "text", "align": "right", "dx": -15, "color": "#000000"},
                   "encoding": {"x": {"datum": 1, "type": "quantitative", "scale": {"domain": [0, 1]}, "axis": null}, "text": {"field": "montant", "type": "quantitative", "format": ",.0f"}}}
                ]
              },
              {
                "width": 33, "height": 195,
                "encoding": {"y": {"field": "ligne", "type": "ordinal", "axis": null, "scale": {"type": "band", "domain": ["entête", "1", "2", "3", "4", "5", "6", "7", "8", "9", "10", "total"], "paddingInner": 0, "paddingOuter": 0.5, "align": 0}}},
                "layer": [
                  {"data": {"name": "entetes"}, "transform": [{"filter": "datum.bloc === 'charges'"}], "mark": {"type": "rule", "color": "#b8b8b8", "yOffset": 7.5}, "encoding": {}},
                  {"data": {"name": "totaux"}, "transform": [{"filter": "datum.bloc === 'charges'"}], "mark": {"type": "rule", "color": "#b8b8b8", "yOffset": -7.5}, "encoding": {}},
                  {"data": {"name": "entetes"}, "transform": [{"filter": "datum.bloc === 'charges'"}], "mark": {"type": "text", "align": "left", "dx": 0.5, "color": "#000000"},
                   "encoding": {"x": {"datum": 0, "type": "quantitative", "scale": {"domain": [0, 1]}, "axis": null}, "text": {"field": "colTotal"}}},
                  {"data": {"name": "lignes"}, "transform": [{"filter": "datum.bloc === 'charges'"}], "mark": {"type": "text", "align": "right", "dx": -5},
                   "encoding": {"x": {"datum": 1, "type": "quantitative", "scale": {"domain": [0, 1]}, "axis": null}, "text": {"field": "pctTotal", "type": "quantitative", "format": ".0%"},
                     "color": {"condition": {"test": "datum.alerte", "value": "#E04848"}, "value": "#7f7f7f"}}},
                  {"data": {"name": "totaux"}, "transform": [{"filter": "datum.bloc === 'charges'"}], "mark": {"type": "text", "align": "right", "dx": -5, "color": "#000000"},
                   "encoding": {"x": {"datum": 1, "type": "quantitative", "scale": {"domain": [0, 1]}, "axis": null}, "text": {"field": "pctTotal", "type": "quantitative", "format": ".0%"}}}
                ]
              },
              {
                "width": 61, "height": 195,
                "encoding": {"y": {"field": "ligne", "type": "ordinal", "axis": null, "scale": {"type": "band", "domain": ["entête", "1", "2", "3", "4", "5", "6", "7", "8", "9", "10", "total"], "paddingInner": 0, "paddingOuter": 0.5, "align": 0}}},
                "layer": [
                  {"data": {"name": "entetes"}, "transform": [{"filter": "datum.bloc === 'charges'"}], "mark": {"type": "rule", "color": "#b8b8b8", "yOffset": 7.5}, "encoding": {}},
                  {"data": {"name": "totaux"}, "transform": [{"filter": "datum.bloc === 'charges'"}], "mark": {"type": "rule", "color": "#b8b8b8", "yOffset": -7.5}, "encoding": {}},
                  {"data": {"name": "lignes"}, "transform": [{"filter": "datum.bloc === 'charges'"}], "mark": {"type": "bar", "height": 11.5, "color": "#D3CEB5"},
                   "encoding": {"x": {"field": "n1", "type": "quantitative", "scale": {"domain": [0, 329000], "nice": false}, "axis": null}}},
                  {"data": {"name": "lignes"}, "transform": [{"filter": "datum.bloc === 'charges'"}], "mark": {"type": "bar", "height": 7, "color": "#948A54"},
                   "encoding": {"x": {"field": "montant", "type": "quantitative", "scale": {"domain": [0, 329000], "nice": false}, "axis": null}}}
                ]
              }
            ]
          },
          {
            "bounds": "flush", "spacing": 0,
            "hconcat": [
              {
                "width": 156, "height": 195,
                "encoding": {"y": {"field": "ligne", "type": "ordinal", "axis": null, "scale": {"type": "band", "domain": ["entête", "1", "2", "3", "4", "5", "6", "7", "8", "9", "10", "total"], "paddingInner": 0, "paddingOuter": 0.5, "align": 0}}},
                "layer": [
                  {"data": {"name": "entetes"}, "transform": [{"filter": "datum.bloc === 'frss'"}], "mark": {"type": "rule", "color": "#b8b8b8", "yOffset": 7.5}, "encoding": {}},
                  {"data": {"name": "totaux"}, "transform": [{"filter": "datum.bloc === 'frss'"}], "mark": {"type": "rule", "color": "#b8b8b8", "yOffset": -7.5}, "encoding": {}},
                  {"data": {"name": "entetes"}, "transform": [{"filter": "datum.bloc === 'frss'"}], "mark": {"type": "text", "align": "left", "dx": 3, "color": "#000000"},
                   "encoding": {"x": {"datum": 0, "type": "quantitative", "scale": {"domain": [0, 1]}, "axis": null}, "text": {"field": "titre"}}},
                  {"data": {"name": "totaux"}, "transform": [{"filter": "datum.bloc === 'frss'"}], "mark": {"type": "text", "align": "left", "dx": 3, "color": "#000000"},
                   "encoding": {"x": {"datum": 0, "type": "quantitative", "scale": {"domain": [0, 1]}, "axis": null}, "text": {"value": "Total"}}},
                  {"data": {"name": "lignes"}, "transform": [{"filter": "datum.bloc === 'frss'"}], "mark": {"type": "text", "align": "right", "dx": -4, "strokeWidth": 6, "strokeOpacity": 0.07, "fillOpacity": 0.1, "strokeJoin": "round", "color": "#858585", "stroke": "#858585"},
                   "encoding": {"x": {"datum": 1, "type": "quantitative", "scale": {"domain": [0, 1]}, "axis": null}, "text": {"field": "libelle"}}},
                  {"data": {"name": "lignes"}, "transform": [{"filter": "datum.bloc === 'frss'"}], "mark": {"type": "text", "align": "right", "dx": -4, "strokeWidth": 2.6, "strokeOpacity": 0.14, "fillOpacity": 0.18, "strokeJoin": "round", "color": "#858585", "stroke": "#858585"},
                   "encoding": {"x": {"datum": 1, "type": "quantitative", "scale": {"domain": [0, 1]}, "axis": null}, "text": {"field": "libelle"}}}
                ]
              },
              {
                "width": 35, "height": 195,
                "encoding": {"y": {"field": "ligne", "type": "ordinal", "axis": null, "scale": {"type": "band", "domain": ["entête", "1", "2", "3", "4", "5", "6", "7", "8", "9", "10", "total"], "paddingInner": 0, "paddingOuter": 0.5, "align": 0}}},
                "layer": [
                  {"data": {"name": "entetes"}, "transform": [{"filter": "datum.bloc === 'frss'"}], "mark": {"type": "rule", "color": "#b8b8b8", "yOffset": 7.5}, "encoding": {}},
                  {"data": {"name": "totaux"}, "transform": [{"filter": "datum.bloc === 'frss'"}], "mark": {"type": "rule", "color": "#b8b8b8", "yOffset": -7.5}, "encoding": {}},
                  {"data": {"name": "lignes"}, "transform": [{"filter": "datum.bloc === 'frss'"}], "mark": {"type": "text", "align": "right", "dx": -7},
                   "encoding": {"x": {"datum": 1, "type": "quantitative", "scale": {"domain": [0, 1]}, "axis": null}, "text": {"field": "pctTotal", "type": "quantitative", "format": ".0%"}}},
                  {"data": {"name": "totaux"}, "transform": [{"filter": "datum.bloc === 'frss'"}], "mark": {"type": "text", "align": "right", "dx": -7, "color": "#000000"},
                   "encoding": {"x": {"datum": 1, "type": "quantitative", "scale": {"domain": [0, 1]}, "axis": null}, "text": {"field": "pctTotal", "type": "quantitative", "format": ".0%"}}}
                ]
              },
              {
                "width": 149, "height": 195,
                "resolve": {"scale": {"x": "independent"}},
                "encoding": {"y": {"field": "ligne", "type": "ordinal", "axis": null, "scale": {"type": "band", "domain": ["entête", "1", "2", "3", "4", "5", "6", "7", "8", "9", "10", "total"], "paddingInner": 0, "paddingOuter": 0.5, "align": 0}}},
                "layer": [
                  {"data": {"name": "entetes"}, "transform": [{"filter": "datum.bloc === 'frss'"}], "mark": {"type": "rule", "color": "#b8b8b8", "yOffset": 7.5}, "encoding": {}},
                  {"data": {"name": "totaux"}, "transform": [{"filter": "datum.bloc === 'frss'"}], "mark": {"type": "rule", "color": "#b8b8b8", "yOffset": -7.5}, "encoding": {}},
                  {"data": {"name": "lignes"}, "transform": [{"filter": "datum.bloc === 'frss'"}], "mark": {"type": "bar", "height": 11, "color": "#D3CEB5"},
                   "encoding": {"x": {"field": "n1", "type": "quantitative", "scale": {"domain": [0, 812500], "nice": false}, "axis": null}}},
                  {"data": {"name": "lignes"}, "transform": [{"filter": "datum.bloc === 'frss'"}], "mark": {"type": "bar", "height": 7, "color": "#948A54"},
                   "encoding": {"x": {"field": "montant", "type": "quantitative", "scale": {"domain": [0, 812500], "nice": false}, "axis": null}}},
                  {"data": {"name": "entetes"}, "transform": [{"filter": "datum.bloc === 'frss'"}], "mark": {"type": "text", "align": "right", "dx": -3, "color": "#000000"},
                   "encoding": {"x": {"datum": 1, "type": "quantitative", "scale": {"domain": [0, 1]}, "axis": null}, "text": {"field": "colMontant"}}},
                  {"data": {"name": "lignes"}, "transform": [{"filter": "datum.bloc === 'frss'"}], "mark": {"type": "text", "align": "right", "dx": -3},
                   "encoding": {"x": {"datum": 1, "type": "quantitative", "scale": {"domain": [0, 1]}, "axis": null}, "text": {"field": "montant", "type": "quantitative", "format": ",.0f"}}},
                  {"data": {"name": "totaux"}, "transform": [{"filter": "datum.bloc === 'frss'"}], "mark": {"type": "text", "align": "right", "dx": -3, "color": "#000000"},
                   "encoding": {"x": {"datum": 1, "type": "quantitative", "scale": {"domain": [0, 1]}, "axis": null}, "text": {"field": "montant", "type": "quantitative", "format": ",.0f"}}},
                  {"data": {"name": "lignes"}, "transform": [{"filter": "datum.bloc === 'frss' && datum.selectionne"}], "mark": {"type": "bar", "height": 13, "fillOpacity": 0, "stroke": "#000000", "strokeWidth": 3, "x2Offset": 34},
                   "encoding": {"x": {"datum": 1, "type": "quantitative", "scale": {"domain": [0, 1]}, "axis": null}, "x2": {"datum": 1}}}
                ]
              }
            ]
          }
        ]
      },
      {
        "bounds": "flush", "spacing": 0,
        "hconcat": [
          {"width": 35, "height": 95, "data": {"values": []}, "mark": "point"},
          {
            "width": 869, "height": 95,
            "data": {"name": "mensuel"},
            "layer": [
              {"mark": {"type": "rule", "color": "#d4d4d4"},
               "encoding": {
                 "x": {"datum": "janv", "type": "ordinal", "scale": {"type": "point", "domain": ["janv", "févr", "mars", "avr", "mai", "juin", "juil", "août", "sept", "oct", "nov", "déc"], "padding": 0},
                   "axis": {"title": null, "domain": false, "ticks": false, "grid": false, "labelAngle": 0, "labelFontSize": 10, "labelColor": "#7f7f7f", "labelPadding": 5}},
                 "x2": {"datum": "déc"},
                 "y": {"datum": 0, "type": "quantitative", "scale": {"domain": [-65500, 65500], "nice": false, "zero": false},
                   "axis": {"title": null, "domain": false, "ticks": false, "grid": false, "values": [-60000, -40000, -20000, 0, 20000, 40000, 60000], "format": ",.0f", "labelFontSize": 8, "labelColor": "#7f7f7f", "labelPadding": 7}}}},
              {"transform": [{"filter": "datum.serie === 'N-1'"}],
               "mark": {"type": "tick", "color": "#d4d4d4", "size": 4, "thickness": 1, "orient": "vertical", "yOffset": 2},
               "encoding": {
                 "x": {"field": "mois", "type": "ordinal", "scale": {"type": "point", "domain": ["janv", "févr", "mars", "avr", "mai", "juin", "juil", "août", "sept", "oct", "nov", "déc"], "padding": 0},
                   "axis": {"title": null, "domain": false, "ticks": false, "grid": false, "labelAngle": 0, "labelFontSize": 10, "labelColor": "#7f7f7f", "labelPadding": 5}},
                 "y": {"datum": 0, "type": "quantitative", "scale": {"domain": [-65500, 65500], "nice": false, "zero": false},
                   "axis": {"title": null, "domain": false, "ticks": false, "grid": false, "values": [-60000, -40000, -20000, 0, 20000, 40000, 60000], "format": ",.0f", "labelFontSize": 8, "labelColor": "#7f7f7f", "labelPadding": 7}}}},
              {"mark": {"type": "line", "strokeWidth": 1.2},
               "encoding": {
                 "x": {"field": "mois", "type": "ordinal", "sort": null, "scale": {"type": "point", "domain": ["janv", "févr", "mars", "avr", "mai", "juin", "juil", "août", "sept", "oct", "nov", "déc"], "padding": 0},
                   "axis": {"title": null, "domain": false, "ticks": false, "grid": false, "labelAngle": 0, "labelFontSize": 10, "labelColor": "#7f7f7f", "labelPadding": 5}},
                 "y": {"field": "valeur", "type": "quantitative", "scale": {"domain": [-65500, 65500], "nice": false, "zero": false},
                   "axis": {"title": null, "domain": false, "ticks": false, "grid": false, "values": [-60000, -40000, -20000, 0, 20000, 40000, 60000], "format": ",.0f", "labelFontSize": 8, "labelColor": "#7f7f7f", "labelPadding": 7}},
                 "color": {"field": "serie", "type": "nominal", "scale": {"domain": ["Réalisé", "N-1", "Budget"], "range": ["#1c1c1c", "#A39B6B", "#E00000"]}, "legend": null}}},
              {"transform": [{"filter": "datum.mois === 'déc' && datum.serie === 'Budget'"}],
               "mark": {"type": "text", "align": "left", "dx": 6, "dy": 1, "fontSize": 10, "color": "#7f7f7f"},
               "encoding": {
                 "x": {"field": "mois", "type": "ordinal", "scale": {"type": "point", "domain": ["janv", "févr", "mars", "avr", "mai", "juin", "juil", "août", "sept", "oct", "nov", "déc"], "padding": 0},
                   "axis": {"title": null, "domain": false, "ticks": false, "grid": false, "labelAngle": 0, "labelFontSize": 10, "labelColor": "#7f7f7f", "labelPadding": 5}},
                 "y": {"field": "valeur", "type": "quantitative", "scale": {"domain": [-65500, 65500], "nice": false, "zero": false},
                   "axis": {"title": null, "domain": false, "ticks": false, "grid": false, "values": [-60000, -40000, -20000, 0, 20000, 40000, 60000], "format": ",.0f", "labelFontSize": 8, "labelColor": "#7f7f7f", "labelPadding": 7}},
                 "text": {"field": "serie"}}},
              {"transform": [{"filter": "datum.mois === 'déc' && datum.serie === 'N-1'"}],
               "mark": {"type": "text", "align": "left", "dx": 12, "dy": 1, "fontSize": 10, "color": "#7f7f7f"},
               "encoding": {
                 "x": {"field": "mois", "type": "ordinal", "scale": {"type": "point", "domain": ["janv", "févr", "mars", "avr", "mai", "juin", "juil", "août", "sept", "oct", "nov", "déc"], "padding": 0},
                   "axis": {"title": null, "domain": false, "ticks": false, "grid": false, "labelAngle": 0, "labelFontSize": 10, "labelColor": "#7f7f7f", "labelPadding": 5}},
                 "y": {"field": "valeur", "type": "quantitative", "scale": {"domain": [-65500, 65500], "nice": false, "zero": false},
                   "axis": {"title": null, "domain": false, "ticks": false, "grid": false, "values": [-60000, -40000, -20000, 0, 20000, 40000, 60000], "format": ",.0f", "labelFontSize": 8, "labelColor": "#7f7f7f", "labelPadding": 7}},
                 "text": {"field": "serie"}}}
            ]
          }
        ]
      }
    ]
  }
]
}
